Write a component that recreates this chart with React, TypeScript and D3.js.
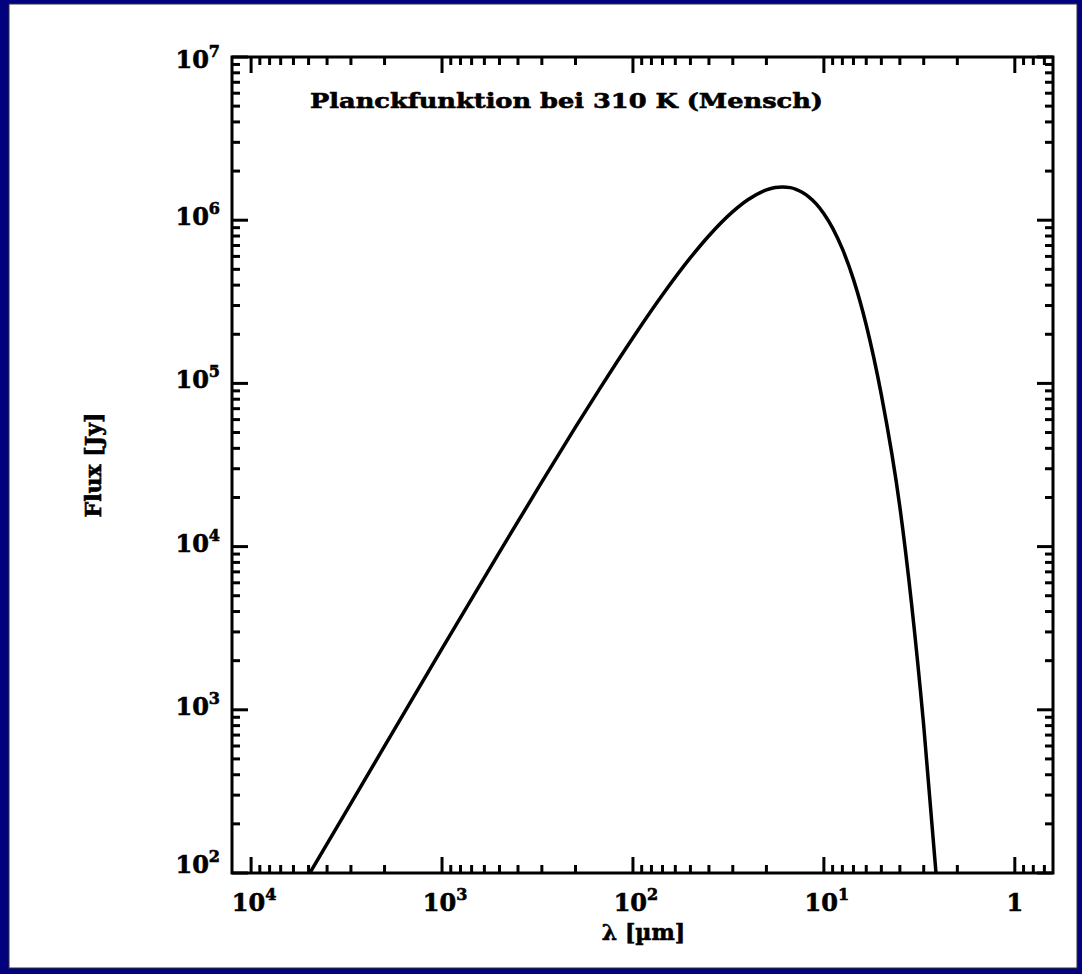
import React from "react";
import * as d3 from "d3";

// Data: wavelength [µm] and flux [Jy]
const wavelengths = [5000, 3000, 2000, 1000, 500, 300, 200, 150, 100, 70, 50, 40, 30, 25, 20, 18, 16.5, 15, 14, 13, 12, 11, 10, 9, 8, 7, 6, 5, 4, 3, 2.5];
const flux = [97, 267, 599, 2370, 9260, 24900, 53900, 92000, 190600, 349000, 589000, 803000, 1128000, 1334000, 1533000, 1585000, 1600000, 1584000, 1547000, 1484000, 1391000, 1263000, 1097000, 895000, 667000, 434000, 228000, 85000, 17500, 800, 62];

const xMajorExponents = [4, 3, 2, 1, 0];
const yMajorExponents = [2, 3, 4, 5, 6, 7];
const xDomain = [Math.pow(10, 4.1), Math.pow(10, -0.2)];
const yDomain = [1e2, 1e7];

const titleText = "Planckfunktion bei 310 K (Mensch)";
const xAxisTitle = "λ [µm]";
const yAxisTitle = "Flux [Jy]";

const W = 1082, H = 974;
const L = 232, R = 1053, T = 57, B = 873;
const FONT = "'DejaVu Serif', 'Liberation Serif', serif";

export default function App() {
  const x = d3.scaleLog().domain(xDomain).range([L, R]);
  const y = d3.scaleLog().domain(yDomain).range([B, T]);

  const pts = wavelengths.map((w, i) => [x(w), y(flux[i])] as [number, number]);
  const line = d3.line().curve(d3.curveMonotoneX)(pts) || "";

  const xMinor: number[] = [];
  for (let k = -1; k <= 4; k++) for (let m = 2; m <= 9; m++) {
    const v = m * Math.pow(10, k);
    if (v <= xDomain[0] && v >= xDomain[1]) xMinor.push(v);
  }
  const yMinor: number[] = [];
  for (let k = 2; k <= 6; k++) for (let m = 2; m <= 9; m++) yMinor.push(m * Math.pow(10, k));

  const majLen = 16, minLen = 8, tw = 3;

  return (
    <svg width={W} height={H} style={{ position: "absolute", left: 0, top: 0 }}>
      <rect x={0} y={0} width={W} height={H} fill="#02027e" />
      <rect x={9} y={4} width={W - 14} height={H - 10} fill="#ffffff" stroke="#333" strokeWidth={1} />
      <defs>
        <clipPath id="plotclip"><rect x={L} y={T} width={R - L} height={B - T} /></clipPath>
      </defs>
      <path d={line} fill="none" stroke="#000" strokeWidth={3.5} clipPath="url(#plotclip)" strokeLinejoin="round" />
      <g stroke="#000" strokeWidth={tw}>
        {xMajorExponents.map(e => {
          const px = x(Math.pow(10, e));
          return <g key={"xm" + e}>
            <line x1={px} x2={px} y1={B} y2={B - majLen} />
            <line x1={px} x2={px} y1={T} y2={T + majLen} />
          </g>;
        })}
        {xMinor.map(v => {
          const px = x(v);
          return <g key={"xn" + v}>
            <line x1={px} x2={px} y1={B} y2={B - minLen} />
            <line x1={px} x2={px} y1={T} y2={T + minLen} />
          </g>;
        })}
        {yMajorExponents.map(e => {
          const py = y(Math.pow(10, e));
          return <g key={"ym" + e}>
            <line x1={L} x2={L + majLen} y1={py} y2={py} />
            <line x1={R} x2={R - majLen} y1={py} y2={py} />
          </g>;
        })}
        {yMinor.map(v => {
          const py = y(v);
          return <g key={"yn" + v}>
            <line x1={L} x2={L + minLen} y1={py} y2={py} />
            <line x1={R} x2={R - minLen} y1={py} y2={py} />
          </g>;
        })}
      </g>
      <rect x={L} y={T} width={R - L} height={B - T} fill="none" stroke="#000" strokeWidth={3} />
      <g fontFamily={FONT} fontWeight="bold" fill="#000" stroke="#000" strokeWidth={0.6}>
        {xMajorExponents.map(e => {
          const px = x(Math.pow(10, e));
          return e === 0 ? (
            <text key={"xl" + e} x={px} y={911} fontSize={24} textAnchor="middle">1</text>
          ) : (
            <text key={"xl" + e} x={px + 3} y={911} fontSize={24} textAnchor="middle">
              10<tspan fontSize={16} dy={-11}>{e}</tspan>
            </text>
          );
        })}
        {yMajorExponents.map(e => {
          const py = y(Math.pow(10, e));
          const off = e === 7 ? 11 : e === 2 ? 0 : 5;
          return (
            <text key={"yl" + e} x={220} y={py + off} fontSize={24} textAnchor="end">
              10<tspan fontSize={16} dy={-11}>{e}</tspan>
            </text>
          );
        })}
        <text x={(L + R) / 2 + 1} y={940} fontSize={22} textAnchor="middle">{xAxisTitle}</text>
        <text transform={`translate(101, ${(T + B) / 2}) rotate(-90)`} fontSize={22} textAnchor="middle">{yAxisTitle}</text>
        <text x={310} y={108} fontSize={21} textLength={513} lengthAdjust="spacingAndGlyphs">{titleText}</text>
      </g>
    </svg>
  );
}
